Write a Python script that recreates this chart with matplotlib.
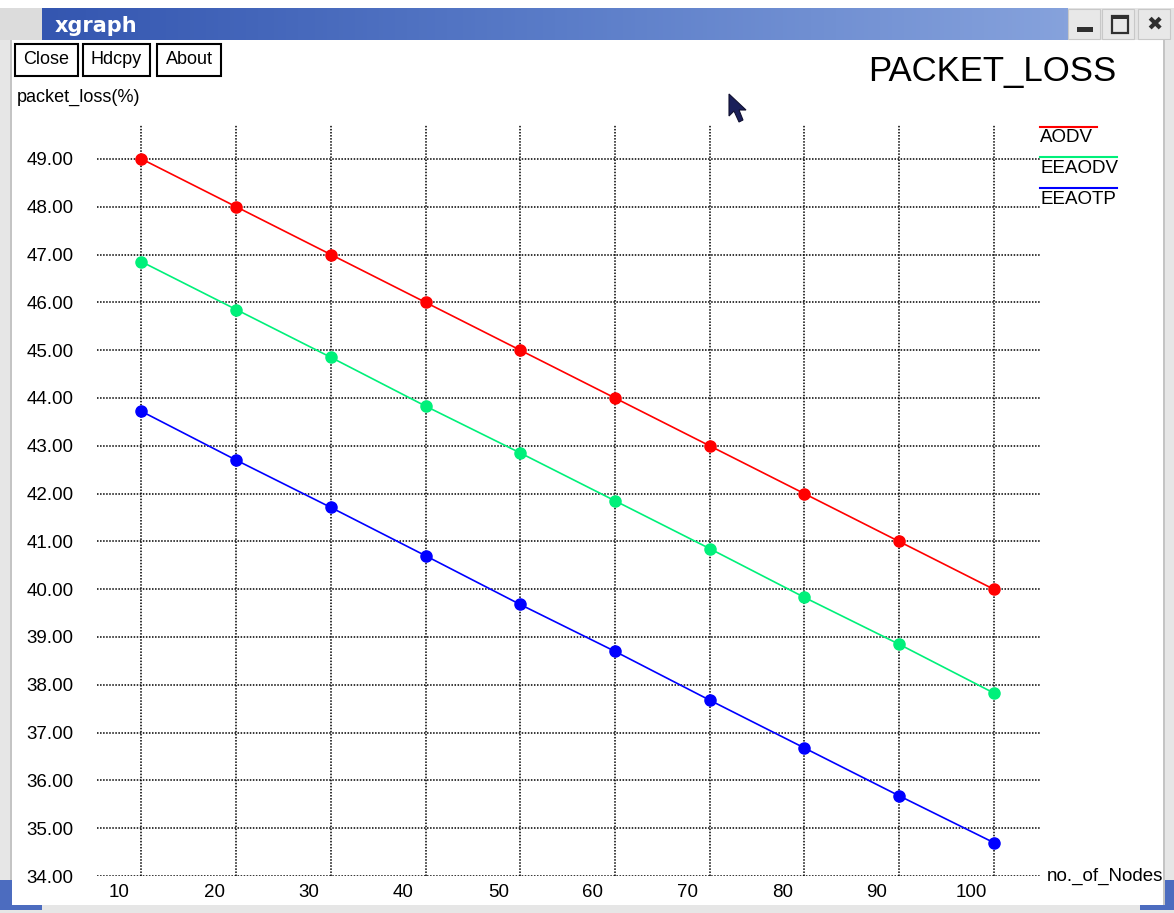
import numpy as np
import matplotlib
matplotlib.use("Agg")
import matplotlib.pyplot as plt
from matplotlib.patches import Rectangle, Polygon
from matplotlib.transforms import ScaledTranslation

plt.rcParams["font.family"] = ["Liberation Sans", "DejaVu Sans"]

nodes = [10, 20, 30, 40, 50, 60, 70, 80, 90, 100]
aodv = [49.0, 48.0, 47.0, 46.0, 45.0, 44.0, 43.0, 42.0, 41.0, 40.0]
eeaodv = [46.85, 45.85, 44.85, 43.83, 42.85, 41.85, 40.85, 39.83, 38.85, 37.83]
eeaotp = [43.72, 42.7, 41.71, 40.7, 39.68, 38.7, 37.68, 36.68, 35.68, 34.7]
series_names = ["AODV", "EEAODV", "EEAOTP"]
series_colors = ["#ff0000", "#00f07a", "#0000ff"]
yticks = [34, 35, 36, 37, 38, 39, 40, 41, 42, 43, 44, 45, 46, 47, 48, 49]

W, H = 1174, 913
fig = plt.figure(figsize=(W / 100, H / 100), dpi=100)
fig.patch.set_facecolor("white")
FS = 13.5


def fx(px):
    return px / W


def fy(py):
    return 1 - py / H


def box(x0, y0, x1, y1, **kw):
    r = Rectangle((fx(x0), fy(y1)), fx(x1) - fx(x0), fy(y0) - fy(y1),
                  transform=fig.transFigure, **kw)
    fig.patches.append(r)


# --- window chrome ---
box(0, 8, 42, 40, facecolor="#dcdcdc", edgecolor="none")
tb = fig.add_axes([fx(42), fy(40), fx(1068) - fx(42), fy(8) - fy(40)])
grad = np.linspace(0, 1, 256)[None, :]
tb.imshow(grad, aspect="auto", cmap=matplotlib.colors.LinearSegmentedColormap.from_list(
    "tb", ["#3456b0", "#5a7cc8", "#86a2dc"]), extent=[0, 1, 0, 1])
tb.set_axis_off()
tb.text(0.012, 0.45, "xgraph", color="white", fontsize=15, fontweight="bold",
        va="center", ha="left", transform=tb.transAxes, family="DejaVu Sans")
box(1068, 8, W, 40, facecolor="#e4e4e4", edgecolor="none")
for x0 in (1068, 1102, 1138):
    box(x0, 9, x0 + 32, 39, facecolor="#e8e8e8", edgecolor="#c8c8c8", linewidth=0.8)
box(1077, 27, 1093, 32, facecolor="#303030", edgecolor="none")
box(1112, 16, 1128, 33, facecolor="none", edgecolor="#303030", linewidth=1.6)
box(1112, 16, 1128, 19, facecolor="#303030", edgecolor="none")
fig.text(fx(1155), fy(24), "\u2716", fontsize=14, ha="center", va="center",
         color="#303030", family="DejaVu Sans")
box(0, 40, 11, 913, facecolor="#e6e6e6", edgecolor="none")
box(10, 40, 12, 905, facecolor="#c4c4c4", edgecolor="none")
box(1163, 40, 1165, 905, facecolor="#c4c4c4", edgecolor="none")
box(1165, 40, W, 913, facecolor="#e6e6e6", edgecolor="none")
box(0, 905, W, 913, facecolor="#e6e6e6", edgecolor="none")
box(0, 880, 12, 910, facecolor="#4c6cbf", edgecolor="none")
box(0, 905, 42, 910, facecolor="#4c6cbf", edgecolor="none")
box(1140, 905, W, 910, facecolor="#4c6cbf", edgecolor="none")
box(1165, 880, W, 910, facecolor="#4c6cbf", edgecolor="none")

# buttons
for label, x0, x1 in (("Close", 15, 78), ("Hdcpy", 83, 150), ("About", 157, 221)):
    box(x0, 44, x1, 76, facecolor="white", edgecolor="black", linewidth=1.5)
    fig.text(fx((x0 + x1) / 2), fy(60), label, fontsize=13, ha="center", va="center")

fig.text(fx(17), fy(97), "packet_loss(%)", fontsize=13, ha="left", va="center")
fig.text(fx(992), fy(72), "PACKET_LOSS", fontsize=25, ha="center", va="center")
fig.text(fx(1047), fy(876), "no._of_Nodes", fontsize=FS, ha="left", va="center")

# cursor
cur = Polygon([(fx(729), fy(94)), (fx(729), fy(116)), (fx(734), fy(111)),
               (fx(739), fy(122)), (fx(743), fy(120)), (fx(739), fy(110)),
               (fx(746), fy(110))], closed=True, transform=fig.transFigure,
              facecolor="#1a1f5a", edgecolor="#101030", linewidth=0.8)
fig.patches.append(cur)

# --- plot area ---
ax = fig.add_axes([fx(97), fy(876), fx(1040) - fx(97), fy(125) - fy(876)])
ax.set_xlim(5.3, 104.9)
ax.set_ylim(34, 49.71)
for s in ax.spines.values():
    s.set_visible(False)
ax.patch.set_alpha(0)

dot = (0, (1, 1))
for y in yticks:
    ax.axhline(y, color="black", linestyle=dot, linewidth=1.1, zorder=1)
for x in nodes:
    ax.axvline(x, color="black", linestyle=dot, linewidth=1.1, zorder=1)

for vals, name, c in zip([aodv, eeaodv, eeaotp], series_names, series_colors):
    ax.plot(nodes, vals, color=c, linewidth=1.2, marker="o", markersize=8,
            zorder=3, label=name)

ax.set_yticks(yticks)
ax.set_yticklabels(["%.2f" % v for v in yticks], fontsize=FS)
ax.set_xticks(nodes)
ax.set_xticklabels([str(v) for v in nodes], fontsize=FS)
ax.tick_params(length=0, pad=0)
ax.tick_params(axis="y", pad=17)
ax.tick_params(axis="x", pad=6)
shift = ScaledTranslation(-0.22, 0, fig.dpi_scale_trans)
for lbl in ax.get_xticklabels():
    lbl.set_transform(lbl.get_transform() + shift)

# xgraph-style legend
for i, (name, c) in enumerate(zip(series_names, series_colors)):
    ly = 127 + i * 30.5
    x1 = 1097 if i == 0 else 1117
    fig.lines.append(plt.Line2D([fx(1040), fx(x1)], [fy(ly), fy(ly)],
                                transform=fig.transFigure, color=c, linewidth=1.5))
    fig.text(fx(1040), fy(ly + 11), name, fontsize=FS, ha="left", va="center")

fig.savefig("out.png", dpi=100)
